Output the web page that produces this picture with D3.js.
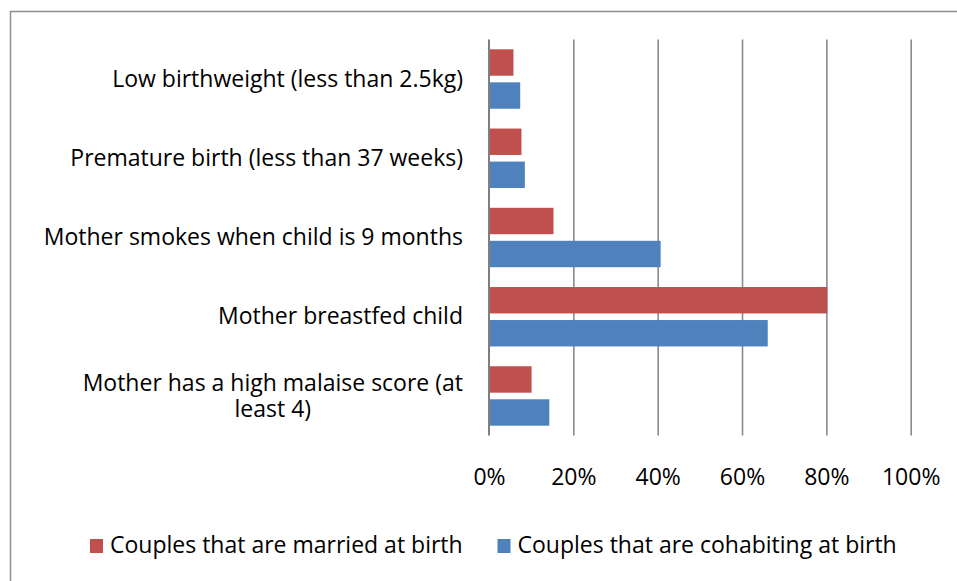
<!DOCTYPE html>
<html>
<head>
<meta charset="utf-8">
<script src="https://cdn.jsdelivr.net/npm/d3@7"></script>
<style>
  body { margin: 0; background: #fff; }
  text { font-family: "Open Sans", Lato, sans-serif; fill: #000; }
</style>
</head>
<body>
<div class="canvas"></div>
<script>
const categories = [
  "Low birthweight (less than 2.5kg)",
  "Premature birth (less than 37 weeks)",
  "Mother smokes when child is 9 months",
  "Mother breastfed child",
  "Mother has a high malaise score (at least 4)"
];
const seriesNames = ["Couples that are married at birth", "Couples that are cohabiting at birth"];
const married = [5.8, 7.7, 15.3, 80.2, 10.1];
const cohabiting = [7.4, 8.5, 40.7, 66.1, 14.3];
const tickValues = [0, 20, 40, 60, 80, 100];

const colors = ["#C0504D", "#4F81BD"];
const width = 957;
const height = 581;
const plot = { left: 489, right: 910.7, top: 39.4, bottom: 435.6 };
const fontSize = 23;
const fontFamily = '"Open Sans", Lato, sans-serif';

const svg = d3
  .select(".canvas")
  .append("svg")
  .attr("width", width)
  .attr("height", height);

// chart frame (runs off the right and bottom edges)
svg
  .append("rect")
  .attr("x", 10.5)
  .attr("y", 11.5)
  .attr("width", 960)
  .attr("height", 590)
  .attr("fill", "none")
  .attr("stroke", "#8e8e8e")
  .attr("stroke-width", 1.5);

const x = d3.scaleLinear().domain([0, 100]).range([plot.left, plot.right]);

const y = d3
  .scaleBand()
  .domain(categories)
  .range([plot.top, plot.bottom])
  .paddingInner(0.25)
  .paddingOuter(0.125);

const ySub = d3
  .scaleBand()
  .domain([0, 1])
  .range([0, y.bandwidth()])
  .paddingInner(0.2);

// gridlines
const grid = svg
  .append("g")
  .attr("transform", `translate(0, ${plot.bottom})`)
  .call(
    d3
      .axisBottom(x)
      .tickValues(tickValues.filter((d) => d > 0))
      .tickSize(-(plot.bottom - plot.top))
      .tickFormat("")
  );
grid.select(".domain").remove();
grid.selectAll("line").attr("stroke", "#8a8a8a").attr("stroke-width", 1.6);

// bars
const rows = categories.map((c, i) => ({ cat: c, values: [married[i], cohabiting[i]] }));

const groups = svg
  .selectAll("g.row")
  .data(rows)
  .enter()
  .append("g")
  .attr("class", "row")
  .attr("transform", (d) => `translate(0, ${y(d.cat)})`);

groups
  .selectAll("rect")
  .data((d) => d.values)
  .enter()
  .append("rect")
  .attr("x", x(0))
  .attr("y", (d, i) => ySub(i))
  .attr("width", (d) => x(d) - x(0))
  .attr("height", ySub.bandwidth())
  .attr("fill", (d, i) => colors[i]);

// vertical axis line at 0%
svg
  .append("line")
  .attr("x1", x(0))
  .attr("x2", x(0))
  .attr("y1", plot.top)
  .attr("y2", plot.bottom)
  .attr("stroke", "#7f7f7f")
  .attr("stroke-width", 2);

// x tick labels
const xAxis = svg
  .append("g")
  .attr("transform", `translate(0, ${plot.bottom})`)
  .call(
    d3
      .axisBottom(x)
      .tickValues(tickValues)
      .tickSize(0)
      .tickPadding(0)
      .tickFormat((d) => d + "%")
  );
xAxis.select(".domain").remove();
xAxis
  .selectAll("text")
  .attr("dy", null)
  .attr("y", 485 - plot.bottom)
  .attr("font-size", fontSize)
  .attr("font-family", fontFamily)
  .attr("fill", "#000");

// category labels, wrapped and centred as a right-aligned block
const labelRight = plot.left - 26;
const maxLabelWidth = 426;
const lineHeight = 26.3;

categories.forEach((c) => {
  const words = c.split(" ");
  const lines = [];
  let current = [];
  const probe = svg.append("text").attr("font-size", fontSize);
  words.forEach((w) => {
    const trial = current.concat(w).join(" ");
    probe.text(trial);
    if (probe.node().getComputedTextLength() > maxLabelWidth && current.length) {
      lines.push(current.join(" "));
      current = [w];
    } else {
      current.push(w);
    }
  });
  lines.push(current.join(" "));
  const blockWidth = d3.max(lines, (l) => {
    probe.text(l);
    return probe.node().getComputedTextLength();
  });
  probe.remove();

  const cy = y(c) + y.bandwidth() / 2;
  const firstBase = cy - ((lines.length - 1) * lineHeight) / 2 + 7.7;
  const label = svg
    .append("text")
    .attr("font-size", fontSize)
    .attr("text-anchor", "middle");
  label
    .selectAll("tspan")
    .data(lines)
    .enter()
    .append("tspan")
    .attr("x", labelRight - blockWidth / 2)
    .attr("y", (d, i) => firstBase + i * lineHeight)
    .text((d) => d);
});

// legend
const legend = svg.append("g").attr("transform", "translate(0, 553)");
const legendX = [90, 497.5];
seriesNames.forEach((name, i) => {
  legend
    .append("rect")
    .attr("x", legendX[i])
    .attr("y", -14)
    .attr("width", 13)
    .attr("height", 14)
    .attr("fill", colors[i]);
  legend
    .append("text")
    .attr("x", legendX[i] + 20)
    .attr("y", 0)
    .attr("font-size", fontSize)
    .text(name);
});
</script>
</body>
</html>
